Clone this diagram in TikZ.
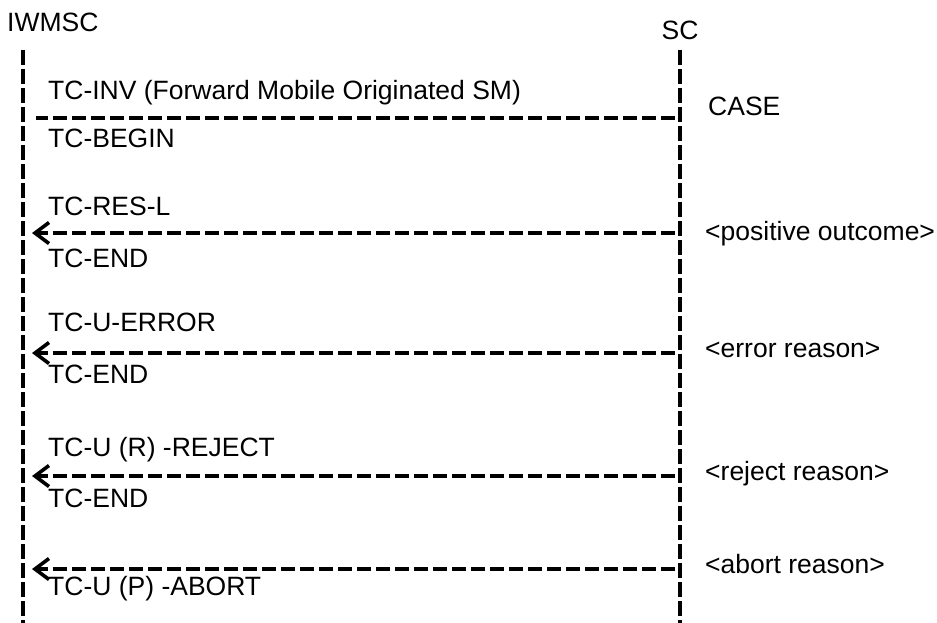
\documentclass[tikz,border=0pt]{standalone}
\usepackage{fontspec}
\setmainfont{Liberation Sans}
\usetikzlibrary{arrows.meta}
\begin{document}
\begin{tikzpicture}[x=1pt,y=-1pt,
  lifeline/.style={line width=3.6pt,dash pattern=on 15pt off 4pt},
  msg/.style={line width=3.5pt,dash pattern=on 14pt off 5pt},
  arr/.style={msg,-{Straight Barb[length=14pt,width=21pt,line width=3.6pt]}},
  lbl/.style={anchor=base west,inner sep=0pt,font=\fontsize{26.5}{30}\selectfont},
  head/.style={anchor=base,inner sep=0pt,font=\fontsize{26.5}{30}\selectfont}]
\useasboundingbox (0,0) rectangle (937,623);
% headers
\node[lbl] (iw) at (7,32) {IWMSC};
\node[head] (sc) at (680,40) {SC};
% lifelines
\coordinate (iwtop) at (23,50);
\coordinate (iwbot) at (23,623);
\coordinate (sctop) at (680,50);
\coordinate (scbot) at (680,623);
\draw[lifeline] (iwtop) -- (iwbot);
\draw[lifeline] (sctop) -- (scbot);
% message 1
\coordinate (m1a) at (36,118);
\coordinate (m1b) at (675,118);
\draw[msg] (m1b) -- (m1a);
\node[lbl] (t1) at (48,100) {TC-INV (Forward Mobile Originated SM)};
\node[lbl] (t2) at (48,148) {TC-BEGIN};
\node[lbl] (c1) at (708,116) {CASE};
% message 2
\coordinate (m2a) at (32,233);
\coordinate (m2b) at (675,233);
\draw[arr] (m2b) -- (m2a);
\node[lbl] (t3) at (48,215) {TC-RES-L};
\node[lbl] (t4) at (48,267) {TC-END};
\node[lbl] (c2) at (705,240) {<positive outcome>};
% message 3
\coordinate (m3a) at (32,353);
\coordinate (m3b) at (675,353);
\draw[arr] (m3b) -- (m3a);
\node[lbl] (t5) at (48,331) {TC-U-ERROR};
\node[lbl] (t6) at (48,383) {TC-END};
\node[lbl] (c3) at (705,357) {<error reason>};
% message 4
\coordinate (m4a) at (32,476);
\coordinate (m4b) at (675,476);
\draw[arr] (m4b) -- (m4a);
\node[lbl] (t7) at (48,456) {TC-U (R) -REJECT};
\node[lbl] (t8) at (48,507) {TC-END};
\node[lbl] (c4) at (705,480) {<reject reason>};
% message 5
\coordinate (m5a) at (32,569);
\coordinate (m5b) at (675,569);
\draw[arr] (m5b) -- (m5a);
\node[lbl] (t9) at (48,595) {TC-U (P) -ABORT};
\node[lbl] (c5) at (705,573) {<abort reason>};
\end{tikzpicture}
\end{document}
